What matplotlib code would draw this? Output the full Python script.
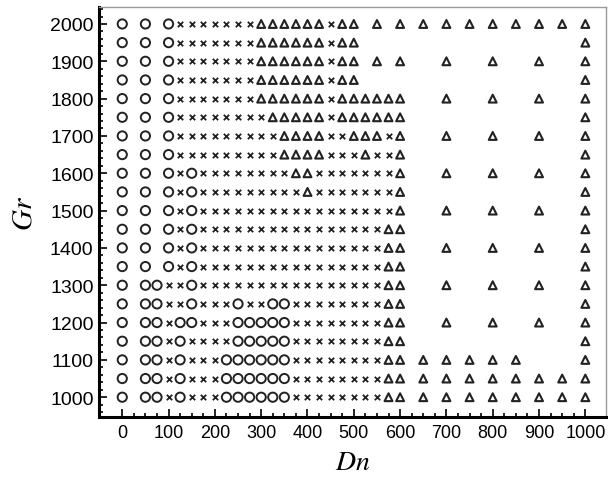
import matplotlib
matplotlib.use('Agg')
import matplotlib.pyplot as plt
import numpy as np

# Dn grid of the survey (step 25)
dn_grid = list(range(0, 1001, 25))

gr_values = [2000, 1950, 1900, 1850, 1800, 1750, 1700, 1650, 1600, 1550, 1500,
             1450, 1400, 1350, 1300, 1250, 1200, 1150, 1100, 1050, 1000]

# one code per Dn grid point: o = circle, x = cross, ^ = triangle, . = nothing
patterns = [
    "o.o.o" + "xxxxxxx" + "^^^^^^" + "x" + "^^" + ".^.^" + ".^.^.^.^.^.^.^.^",  # 2000
    "o.o.o" + "xxxxxxx" + "^^^^^^" + "x" + "^^" + "." * 19 + "^",              # 1950
    "o.o.o" + "xxxxxxx" + "^^^^^^" + "x" + "^^" + ".^.^" + "...^...^...^...^",  # 1900
    "o.o.o" + "xxxxxxx" + "^^^^^^" + "x" + "^^" + "." * 19 + "^",              # 1850
    "o.o.o" + "xxxxxxx" + "^^^^^^" + "x" + "^^^^^^" + "...^...^...^...^",       # 1800
    "o.o.o" + "xxxxxxxx" + "^^^^^" + "x" + "^^^^^^" + "." * 15 + "^",           # 1750
    "o.o.o" + "xxxxxxxxx" + "^^^^" + "xx" + "^^^" + "x" + "^" + "...^...^...^...^",  # 1700
    "o.o.o" + "xxxxxxxxx" + "^^^^" + "xxx" + "^" + "xx" + "^" + "." * 15 + "^",       # 1650
    "o.o.o" + "x" + "o" + "xxxxxxxx" + "^^" + "xxxxxxx" + "^" + "...^...^...^...^",   # 1600
    "o.o.o" + "x" + "o" + "xxxxxxxxx" + "^" + "xxxxxxx" + "^" + "." * 15 + "^",        # 1550
    "o.o.o" + "x" + "o" + "x" * 17 + "^" + "...^...^...^...^",                       # 1500
    "o.o.o" + "x" + "o" + "x" * 16 + "^^" + "." * 15 + "^",                          # 1450
    "o.o.o" + "x" + "o" + "x" * 16 + "^^" + "...^...^...^...^",                      # 1400
    "o.o.o" + "x" + "o" + "x" * 16 + "^^" + "." * 15 + "^",                          # 1350
    "o.oo" + "xx" + "o" + "x" * 16 + "^^" + "...^...^...^...^",                      # 1300
    "o.oo" + "xx" + "o" + "xxx" + "o" + "xx" + "oo" + "x" * 8 + "^^" + "." * 15 + "^",  # 1250
    "o.oo" + "x" + "oo" + "xxx" + "ooooo" + "x" * 8 + "^^" + "...^...^...^...^",      # 1200
    "o.oo" + "x" + "o" + "xxxx" + "ooooo" + "x" * 8 + "^^" + "." * 15 + "^",          # 1150
    "o.oo" + "x" + "o" + "xxx" + "oooooo" + "x" * 8 + "^^" + ".^.^.^.^.^.....^",      # 1100
    "o.oo" + "x" + "o" + "xxx" + "oooooo" + "x" * 8 + "^^" + ".^.^.^.^.^.^.^.^",      # 1050
    "o.oo" + "x" + "o" + "xxx" + "oooooo" + "x" * 8 + "^^" + ".^.^.^.^.^.^.^.^",      # 1000
]

plt.rcParams['font.family'] = ['Liberation Sans', 'DejaVu Sans']
plt.rcParams['mathtext.fontset'] = 'stix'

fig = plt.figure(figsize=(6.08, 4.81), dpi=100)
ax = fig.add_axes([0.163, 0.131, 0.834, 0.852])

ink = '#222222'
styles = {
    'o': dict(marker='o', s=44, facecolors='none', edgecolors=ink, linewidths=1.4),
    'x': dict(marker='x', s=15, c=ink, linewidths=1.3),
    '^': dict(marker='^', s=32, facecolors='none', edgecolors=ink, linewidths=1.5),
}

for code, st in styles.items():
    xs, ys = [], []
    for gr, row in zip(gr_values, patterns):
        for dn, ch in zip(dn_grid, row):
            if ch == code:
                xs.append(dn)
                ys.append(gr)
    ax.scatter(xs, ys, zorder=3, **st)

ax.set_xlim(-50, 1045)
ax.set_ylim(947, 2045)
ax.set_xticks(np.arange(0, 1001, 100))
ax.set_xticks(np.arange(0, 1001, 25), minor=True)
ax.set_yticks(np.arange(1000, 2001, 100))
ax.set_yticks(np.arange(960, 2041, 20), minor=True)
ax.tick_params(which='both', direction='in', top=False, right=False, width=1.2)
ax.tick_params(which='major', length=6)
ax.tick_params(which='minor', length=3)
ax.tick_params(axis='y', labelsize=14, pad=4)
ax.tick_params(axis='x', labelsize=13, pad=5)
for side in ['left', 'bottom']:
    ax.spines[side].set_linewidth(2.2)
for side in ['top', 'right']:
    ax.spines[side].set_linewidth(1.0)
    ax.spines[side].set_color('#999999')

ax.set_xlabel('$Dn$', fontsize=20, labelpad=6)
ax.set_ylabel('$Gr$', fontsize=21, labelpad=9)

fig.savefig('out.png', dpi=100)
